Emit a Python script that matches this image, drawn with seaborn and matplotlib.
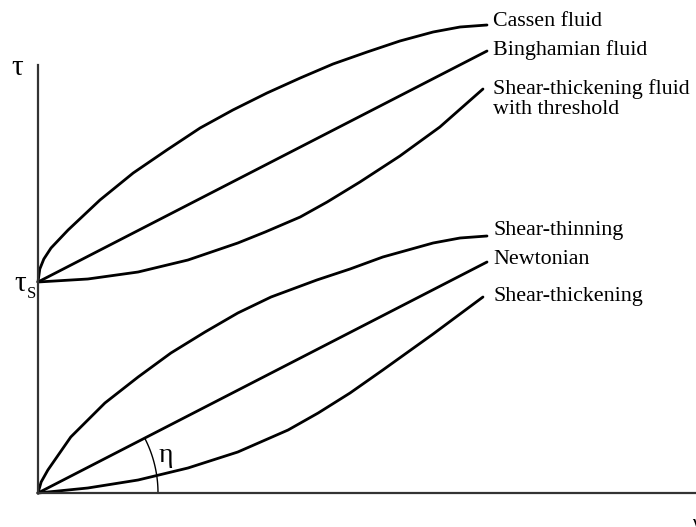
import numpy as np
import pandas as pd
import matplotlib
matplotlib.use("Agg")
import matplotlib.pyplot as plt
import seaborn as sns

# ---- data (shear rate gamma, shear stress tau) ----
casson_x = [0, 0.04, 0.13, 0.29, 0.67, 1.38, 2.12, 2.87, 3.61, 4.34, 5.10, 5.84, 6.57, 7.33, 8.06, 8.80, 9.40, 10.0]
casson_y = [2.11, 2.24, 2.34, 2.45, 2.63, 2.93, 3.20, 3.43, 3.65, 3.83, 4.00, 4.15, 4.29, 4.41, 4.52, 4.61, 4.66, 4.68]

bingham_x = [0, 10.0]
bingham_y = [2.11, 4.42]

thick_thr_x = [0, 1.11, 2.23, 3.34, 4.45, 5.06, 5.84, 6.44, 7.17, 8.06, 8.95, 9.91]
thick_thr_y = [2.11, 2.14, 2.21, 2.33, 2.50, 2.61, 2.76, 2.91, 3.11, 3.37, 3.66, 4.04]

thin_x = [0, 0.07, 0.22, 0.73, 1.49, 2.23, 2.96, 3.72, 4.45, 5.19, 6.21, 6.95, 7.68, 8.80, 9.40, 10.0]
thin_y = [0, 0.11, 0.23, 0.56, 0.90, 1.16, 1.40, 1.61, 1.80, 1.96, 2.13, 2.24, 2.36, 2.50, 2.55, 2.57]

newton_x = [0, 10.0]
newton_y = [0, 2.31]

thick_x = [0, 1.11, 2.23, 3.34, 4.45, 5.57, 6.24, 6.95, 7.68, 8.80, 9.91]
thick_y = [0, 0.05, 0.13, 0.25, 0.41, 0.63, 0.80, 1.00, 1.23, 1.59, 1.96]

labels = ["Cassen fluid", "Binghamian fluid", "Shear-thickening fluid\nwith threshold",
          "Shear-thinning", "Newtonian", "Shear-thickening"]
label_y = [4.71, 4.43, 3.94, 2.63, 2.34, 1.96]
tau_s = 2.11

sns.set_style("white")
plt.rcParams['font.family'] = ['Liberation Serif', 'DejaVu Serif']
plt.rcParams['text.color'] = 'black'

W, H = 696, 527
fig = plt.figure(figsize=(W / 100, H / 100), dpi=100)
ax = fig.add_axes([0, 0, 1, 1])

# pixel mapping: x_px = 38 + 44.9*x ; y_px = 493 - 100*y
xs, ys = 44.9, 100.0
ax.set_xlim(-38 / xs, (W - 38) / xs)
ax.set_ylim(-(H - 493) / ys, 493 / ys)

curves = [(casson_x, casson_y), (bingham_x, bingham_y), (thick_thr_x, thick_thr_y),
          (thin_x, thin_y), (newton_x, newton_y), (thick_x, thick_y)]
for cx, cy in curves:
    sns.lineplot(x=cx, y=cy, color="black", lw=2.0, ax=ax, sort=False,
                 estimator=None, solid_joinstyle="round", solid_capstyle="round")

# axes
for s in ["top", "right"]:
    ax.spines[s].set_visible(False)
ax.spines["left"].set_position(("data", 0))
ax.spines["bottom"].set_position(("data", 0))
ax.spines["left"].set_bounds(0, (493 - 65) / ys)
ax.spines["bottom"].set_bounds(0, (W - 38) / xs)
for s in ["left", "bottom"]:
    ax.spines[s].set_color("#333333")
    ax.spines[s].set_linewidth(1.6)
ax.set_xticks([])
ax.set_yticks([])
ax.set_xlabel("")
ax.set_ylabel("")

# eta angle arc (circle in pixel space)
r_px = 120
phi = np.arctan((newton_y[1] * ys) / (newton_x[1] * xs))
t = np.linspace(0, phi, 60)
ax.plot(r_px * np.cos(t) / xs, r_px * np.sin(t) / ys, color="black", lw=1.0)
ax.text(2.85, 0.37, "η", fontsize=20, ha="center", va="center", color="black")

# labels
lx = (493 - 38) / xs
for lab, yy in zip(labels, label_y):
    ax.text(lx, yy, lab, fontsize=15.8, ha="left", va="center", linespacing=1.12,
            color="black")

ax.text((17 - 38) / xs, (493 - 68) / ys, "τ", fontsize=21, ha="center", va="center", color="black")
ax.text((20 - 38) / xs, tau_s - 0.02, "τ", fontsize=21, ha="center", va="center", color="black")
ax.text((32 - 38) / xs, tau_s - 0.12, "S", fontsize=12, ha="center", va="center", color="black")
ax.text((692 - 38) / xs, -(524 - 493) / ys, "γ̇", fontsize=15, ha="left", va="center",
        clip_on=False, color="black")

fig.savefig("out.png", dpi=100)
